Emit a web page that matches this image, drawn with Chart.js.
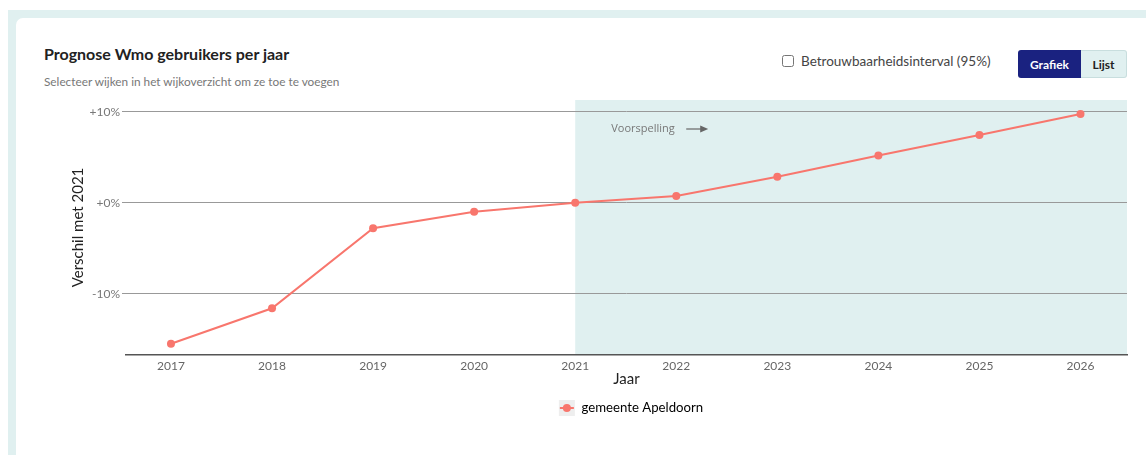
<!DOCTYPE html>
<html lang="nl">
<head>
<meta charset="utf-8">
<title>Prognose Wmo gebruikers per jaar</title>
<script src="https://cdn.jsdelivr.net/npm/chart.js@4/dist/chart.umd.min.js"></script>
<style>
    html, body { margin: 0; padding: 0; background: #fff; font-family: Lato, "Open Sans", sans-serif; }
    .outer { position: absolute; left: 8px; top: 10px; width: 1138px; height: 445px; background: #e0f0f0; }
    .card { position: absolute; left: 16px; top: 18px; width: 1140px; height: 450px; background: #fff; border-radius: 7px; }
    .title { position: absolute; left: 44px; top: 44px; font-size: 16px; font-weight: 700; color: #222; }
    .subtitle { position: absolute; left: 44px; top: 74px; font-size: 11.8px; color: #777; }
    .ci { position: absolute; left: 782px; top: 53px; font-size: 13.5px; color: #444; display: flex; align-items: center; }
    .ci input { margin: 0 7px 0 0; width: 12px; height: 12px; }
    .btns { position: absolute; left: 1018px; top: 50px; display: flex; height: 28px; font-size: 12px; font-weight: 700; }
    .btn { display: flex; align-items: center; justify-content: center; box-sizing: border-box; }
    .btn.on { width: 63px; background: #1a2280; color: #fff; border-radius: 3px 0 0 3px; }
    .btn.off { width: 46px; background: #e0f0f0; color: #222; border: 1px solid #c8dede; border-left: none; border-radius: 0 3px 3px 0; }
    #chart { position: absolute; left: 0; top: 0; }
</style>
</head>
<body>
<div class="outer"></div>
<div class="card"></div>
<div class="title">Prognose Wmo gebruikers per jaar</div>
<div class="subtitle">Selecteer wijken in het wijkoverzicht om ze toe te voegen</div>
<label class="ci"><input type="checkbox">Betrouwbaarheidsinterval (95%)</label>
<div class="btns"><div class="btn on">Grafiek</div><div class="btn off">Lijst</div></div>
<canvas id="chart" width="1146" height="455"></canvas>

<script>
// Jaren en verschil t.o.v. 2021 (in %)
const jaren = [2017, 2018, 2019, 2020, 2021, 2022, 2023, 2024, 2025, 2026];
const verschil = [-15.5, -11.6, -2.8, -1.0, 0, 0.75, 2.85, 5.2, 7.45, 9.75];
const yTicks = [-10, 0, 10];
const prognoseStart = 2021;

const lijnKleur = '#f8766d';

// Achtergrond voor de voorspelling + label
const voorspellingPlugin = {
    id: 'voorspelling',
    afterLayout(chart) {
        // legenda centreren onder het plotgebied
        const legend = chart.legend;
        const tops = legend.legendHitBoxes.map(h => h.top);
        legend.left = chart.chartArea.left + 9;
        legend.right = chart.chartArea.right;
        legend.adjustHitBoxes();
        legend.legendHitBoxes.forEach((h, i) => { h.top = tops[i]; });
    },
    beforeDraw(chart) {
        const { ctx, chartArea, scales } = chart;
        const x0 = scales.x.getPixelForValue(prognoseStart);
        ctx.save();
        ctx.fillStyle = '#e0f0f0';
        ctx.fillRect(x0, chartArea.top, chartArea.right - x0, chartArea.bottom - chartArea.top);
        ctx.restore();
    },
    afterDatasetsDraw(chart) {
        const { ctx, chartArea, scales } = chart;
        const x0 = scales.x.getPixelForValue(prognoseStart);
        const y = chartArea.top + 29;
        ctx.save();
        ctx.fillStyle = '#777';
        ctx.font = '11px "Open Sans", sans-serif';
        ctx.textBaseline = 'middle';
        ctx.fillText('Voorspelling', x0 + 36, y);
        // pijltje
        ctx.strokeStyle = '#666';
        ctx.lineWidth = 1.2;
        ctx.beginPath();
        ctx.moveTo(x0 + 111, y);
        ctx.lineTo(x0 + 127, y);
        ctx.stroke();
        ctx.fillStyle = '#666';
        ctx.beginPath();
        ctx.moveTo(x0 + 133, y);
        ctx.lineTo(x0 + 125, y - 3.5);
        ctx.lineTo(x0 + 125, y + 3.5);
        ctx.closePath();
        ctx.fill();
        ctx.restore();
    },
    afterDraw(chart) {
        // legenda-symbool: lijn met punt
        const box = chart.legend.legendHitBoxes[0];
        if (!box) return;
        const { ctx } = chart;
        const cy = box.top + 8;
        ctx.save();
        ctx.strokeStyle = lijnKleur;
        ctx.lineWidth = 2;
        ctx.beginPath();
        ctx.moveTo(box.left + 1, cy);
        ctx.lineTo(box.left + 15, cy);
        ctx.stroke();
        ctx.fillStyle = lijnKleur;
        ctx.beginPath();
        ctx.arc(box.left + 8, cy, 4, 0, Math.PI * 2);
        ctx.fill();
        ctx.restore();
    }
};

new Chart(document.getElementById('chart'), {
    type: 'line',
    data: {
        datasets: [{
            label: 'gemeente Apeldoorn',
            data: jaren.map((j, i) => ({ x: j, y: verschil[i] })),
            borderColor: lijnKleur,
            backgroundColor: lijnKleur,
            borderWidth: 2,
            pointRadius: 4,
            pointBorderWidth: 0,
            tension: 0
        }]
    },
    options: {
        responsive: false,
        animation: false,
        layout: { padding: { left: 65, right: 19, top: 100, bottom: 29 } },
        scales: {
            x: {
                type: 'linear',
                min: 2016.555,
                max: 2026.46,
                afterBuildTicks: axis => { axis.ticks = jaren.map(v => ({ value: v })); },
                afterFit: axis => { axis.height = 37; },
                grid: { display: false, drawTicks: false },
                border: { display: true, color: '#555', width: 1.5 },
                ticks: {
                    padding: 4,
                    color: '#666',
                    font: { size: 12, family: 'Lato' },
                    callback: v => String(v)
                },
                title: {
                    display: true,
                    text: 'Jaar',
                    color: '#222',
                    font: { size: 15, family: 'Lato' },
                    padding: { top: 0, bottom: 4 }
                }
            },
            y: {
                min: -16.74,
                max: 11.3,
                afterBuildTicks: axis => { axis.ticks = yTicks.map(v => ({ value: v })); },
                afterFit: axis => { axis.width = 61; },
                grid: { color: '#999', lineWidth: 1, tickLength: 4, drawTicks: true },
                border: { display: false },
                ticks: {
                    padding: 2,
                    color: '#777',
                    font: { size: 12, family: 'Lato' },
                    callback: v => (v < 0 ? '' : '+') + v + '%'
                },
                title: {
                    display: true,
                    text: 'Verschil met 2021',
                    color: '#222',
                    font: { size: 15, family: 'Lato' },
                    padding: { top: 4, bottom: 4 }
                }
            }
        },
        plugins: {
            legend: {
                position: 'bottom',
                labels: {
                    boxWidth: 16,
                    boxHeight: 16,
                    padding: 8,
                    color: '#333',
                    font: { size: 13.2, family: 'Lato' },
                    generateLabels: chart => chart.data.datasets.map((ds, i) => ({
                        text: ds.label,
                        fillStyle: '#eeeeee',
                        strokeStyle: '#eeeeee',
                        lineWidth: 0,
                        datasetIndex: i
                    }))
                }
            },
            tooltip: { enabled: false }
        }
    },
    plugins: [voorspellingPlugin]
});
</script>
</body>
</html>
